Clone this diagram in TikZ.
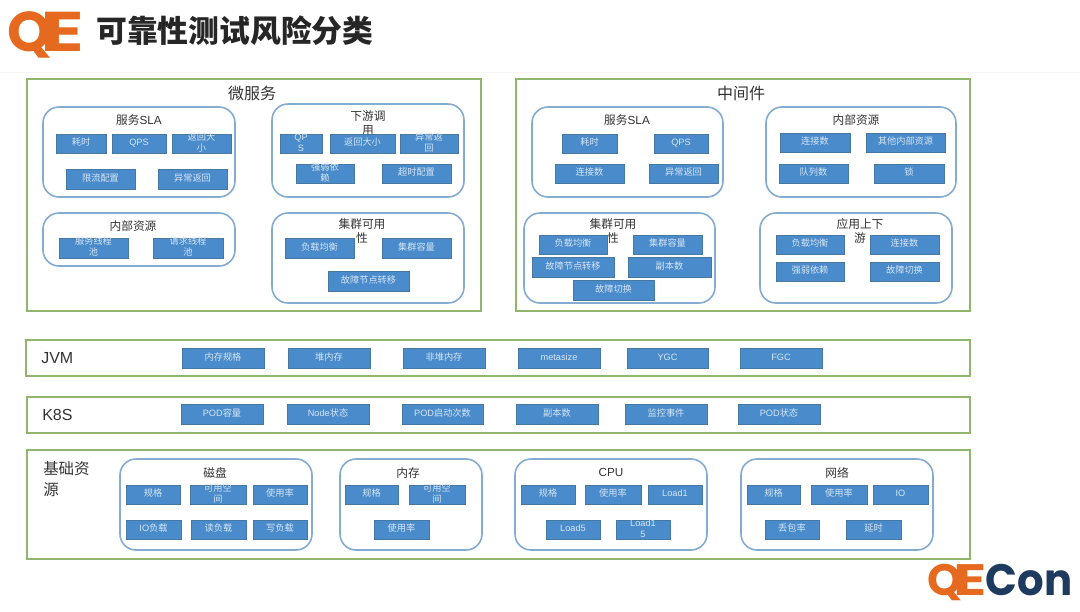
\documentclass[tikz,border=0pt]{standalone}
\usepackage{fontspec}
\setmainfont{Noto Sans CJK SC}
\newfontfamily\lat{Liberation Sans}
\newfontfamily\logofont{Poppins}
\definecolor{grn}{HTML}{8FB66A}
\definecolor{grp}{HTML}{84ABD2}
\definecolor{bfill}{HTML}{4A8BCB}
\definecolor{bline}{HTML}{47789F}
\definecolor{btext}{HTML}{D6E6F5}
\definecolor{ttl}{HTML}{333333}
\definecolor{qeo}{HTML}{E5691E}
\definecolor{qen}{HTML}{1E3A5F}
\tikzset{
  x=0.75pt,y=-0.75pt,
  outerbox/.style={draw=grn,line width=1.4pt,fill=white,inner sep=0,outer sep=0},
  groupbox/.style={draw=grp,line width=1.2pt,fill=white,rounded corners=12pt,inner sep=0,outer sep=0},
  itembox/.style={draw=bline,line width=0.7pt,fill=bfill,text=btext,inner sep=0,outer sep=0,font=\fontsize{6.9}{8.4}\selectfont},
  gtitle/.style={text=ttl,inner sep=0,align=center,font=\fontsize{8.8}{10.5}\selectfont},
  bigtitle/.style={text=ttl,inner sep=0,align=center,font=\fontsize{12}{14}\selectfont},
  sidetitle/.style={text=ttl,inner sep=0,align=left,anchor=north west,font=\fontsize{11.6}{16}\selectfont},
}
\newcount\nodeno
\newcommand{\stepno}{\global\advance\nodeno by 1 }
\newcommand{\Outer}[4]{\stepno\node[outerbox,minimum width={(#3-#1)*0.75pt},minimum height={(#4-#2)*0.75pt}] (o\the\nodeno) at ({(#1+#3)/2},{(#2+#4)/2}) {};}
\newcommand{\Group}[4]{\stepno\node[groupbox,minimum width={(#3-#1)*0.75pt},minimum height={(#4-#2)*0.75pt}] (g\the\nodeno) at ({(#1+#3)/2},{(#2+#4)/2}) {};}
\newcommand{\Item}[5]{\stepno\node[itembox,minimum width={(#3-#1)*0.75pt},minimum height={(#4-#2)*0.75pt}] (i\the\nodeno) at ({(#1+#3)/2},{(#2+#4)/2}) {\raisebox{-.25em}[0pt][0pt]{\begin{tabular}[c]{@{}c@{}}#5\end{tabular}}};}
\newcommand{\GT}[3]{\stepno\node[gtitle,anchor=north] (t\the\nodeno) at (#1,#2) {#3};}
\begin{document}
\begin{tikzpicture}
\useasboundingbox (0,0) rectangle (1080,611);
\fill[white] (0,0) rectangle (1080,611);
\draw[color=black!4,line width=0.6pt] (0,72) -- (1080,72);
% logos and heading
\node[anchor=base west,inner sep=0,text=qeo,font=\logofont\bfseries\fontsize{42}{42}\selectfont] (logoa) at (7,51) {Q\kern-8pt\scalebox{1.45}[1]{E}};
\node[anchor=west,inner sep=0,text=black!85,font=\bfseries\fontsize{23.1}{26}\selectfont] (heading) at (96,31) {可靠性测试风险分类};
\node[anchor=base west,inner sep=0,font=\logofont\bfseries\fontsize{33}{33}\selectfont] (logob) at (927,595) {\textcolor{qeo}{Q\kern-6pt\scalebox{1.4}[1]{E}}\kern-1pt\textcolor{qen}{\scalebox{.95}[1]{Con}}};
% outer frames
\Outer{27}{79}{481}{311}
\Outer{516}{79}{970}{311}
\Outer{26}{340}{970}{376}
\Outer{27}{397}{970}{433}
\Outer{27}{450}{970}{559}
\stepno\node[bigtitle] (t\the\nodeno) at (252,93) {微服务};
\stepno\node[bigtitle] (t\the\nodeno) at (741,93) {中间件};
\stepno\node[sidetitle,font=\lat\fontsize{12}{14}\selectfont] (t\the\nodeno) at (41,352) {JVM};
\stepno\node[sidetitle,font=\lat\fontsize{12}{14}\selectfont] (t\the\nodeno) at (42,409) {K8S};
\stepno\node[sidetitle] (t\the\nodeno) at (43,461) {基础资\\源};
% groups
\Group{43}{107}{235}{197}
\Group{272}{104}{464}{197}
\Group{43}{213}{235}{266}
\Group{272}{213}{464}{303}
\Group{532}{107}{723}{197}
\Group{766}{107}{956}{197}
\Group{524}{213}{715}{303}
\Group{760}{213}{952}{303}
\Group{120}{459}{312}{550}
\Group{340}{459}{482}{550}
\Group{515}{459}{707}{550}
\Group{741}{459}{933}{550}
% group titles
\GT{139}{114}{服务{\lat SLA}}
\GT{368}{110}{下游调\\用}
\GT{133}{220}{内部资源}
\GT{362}{218}{集群可用\\性}
\GT{627}{114}{服务{\lat SLA}}
\GT{856}{114}{内部资源}
\GT{613}{218}{集群可用\\性}
\GT{860}{218}{应用上下\\游}
\GT{215}{467}{磁盘}
\GT{408}{467}{内存}
\GT{611}{468}{{\lat CPU}}
\GT{837}{467}{网络}
% 微服务
\Item{56}{134}{106}{153}{耗时}
\Item{112}{134}{166}{153}{\lat QPS}
\Item{172}{134}{231}{153}{返回大\\小}
\Item{66}{169}{135}{189}{限流配置}
\Item{158}{169}{227}{189}{异常返回}
\Item{280}{134}{322}{153}{\lat QP\\\lat S}
\Item{330}{134}{395}{153}{返回大小}
\Item{400}{134}{458}{153}{异常返\\回}
\Item{296}{164}{354}{183}{强弱依\\赖}
\Item{382}{164}{451}{183}{超时配置}
\Item{59}{238}{128}{258}{服务线程\\池}
\Item{153}{238}{223}{258}{请求线程\\池}
\Item{285}{238}{354}{258}{负载均衡}
\Item{382}{238}{451}{258}{集群容量}
\Item{328}{271}{409}{291}{故障节点转移}
% 中间件
\Item{562}{134}{617}{153}{耗时}
\Item{654}{134}{708}{153}{\lat QPS}
\Item{555}{164}{624}{183}{连接数}
\Item{649}{164}{718}{183}{异常返回}
\Item{780}{133}{850}{152}{连接数}
\Item{866}{133}{945}{152}{其他内部资源}
\Item{779}{164}{848}{183}{队列数}
\Item{874}{164}{944}{183}{锁}
\Item{539}{235}{607}{254}{负载均衡}
\Item{633}{235}{702}{254}{集群容量}
\Item{532}{257}{614}{277}{故障节点转移}
\Item{628}{257}{711}{277}{副本数}
\Item{573}{280}{654}{300}{故障切换}
\Item{776}{235}{844}{254}{负载均衡}
\Item{870}{235}{939}{254}{连接数}
\Item{776}{262}{844}{281}{强弱依赖}
\Item{870}{262}{939}{281}{故障切换}
% JVM
\Item{182}{348}{264}{368}{内存规格}
\Item{288}{348}{370}{368}{堆内存}
\Item{403}{348}{485}{368}{非堆内存}
\Item{518}{348}{600}{368}{\lat metasize}
\Item{627}{348}{708}{368}{\lat YGC}
\Item{740}{348}{822}{368}{\lat FGC}
% K8S
\Item{181}{404}{263}{424}{{\lat POD}容量}
\Item{287}{404}{369}{424}{{\lat Node}状态}
\Item{402}{404}{483}{424}{{\lat POD}启动次数}
\Item{516}{404}{598}{424}{副本数}
\Item{625}{404}{707}{424}{监控事件}
\Item{738}{404}{820}{424}{{\lat POD}状态}
% 基础资源
\Item{126}{485}{180}{504}{规格}
\Item{190}{485}{246}{504}{可用空\\间}
\Item{253}{485}{307}{504}{使用率}
\Item{126}{520}{181}{539}{{\lat IO}负载}
\Item{191}{520}{246}{539}{读负载}
\Item{253}{520}{307}{539}{写负载}
\Item{345}{485}{398}{504}{规格}
\Item{409}{485}{465}{504}{可用空\\间}
\Item{374}{520}{429}{539}{使用率}
\Item{521}{485}{575}{504}{规格}
\Item{585}{485}{641}{504}{使用率}
\Item{648}{485}{702}{504}{\lat Load1}
\Item{546}{520}{600}{539}{\lat Load5}
\Item{616}{520}{670}{539}{\lat Load1\\\lat 5}
\Item{747}{485}{800}{504}{规格}
\Item{811}{485}{867}{504}{使用率}
\Item{873}{485}{928}{504}{\lat IO}
\Item{765}{520}{819}{539}{丢包率}
\Item{846}{520}{901}{539}{延时}
\end{tikzpicture}
\end{document}
